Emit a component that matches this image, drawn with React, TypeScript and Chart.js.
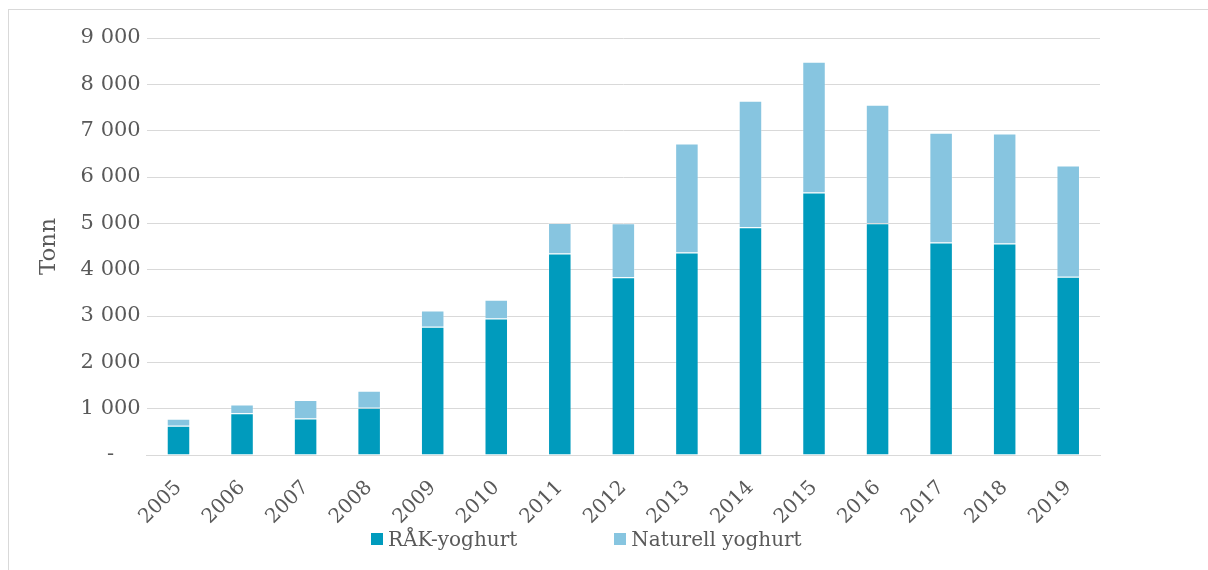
import React, { useEffect, useRef } from "react";
import { Chart, registerables } from "chart.js";

Chart.register(...registerables);

const years = ["2005", "2006", "2007", "2008", "2009", "2010", "2011", "2012", "2013", "2014", "2015", "2016", "2017", "2018", "2019"];
const rakValues = [630, 900, 790, 1020, 2770, 2945, 4350, 3835, 4370, 4915, 5665, 5000, 4585, 4565, 3850];
const naturellValues = [155, 190, 400, 370, 350, 405, 660, 1165, 2355, 2730, 2825, 2560, 2370, 2375, 2400];
const yTickValues = [0, 1000, 2000, 3000, 4000, 5000, 6000, 7000, 8000, 9000];
const yTickLabels = ["-    ", "1 000", "2 000", "3 000", "4 000", "5 000", "6 000", "7 000", "8 000", "9 000"];
const seriesNames = ["RÅK-yoghurt", "Naturell yoghurt"];
const seriesColors = ["#009bbd", "#87c5e0"];

const FONT = "'DejaVu Serif', 'Liberation Serif', serif";
const TEXT = "#595959";

export default function App() {
  const ref = useRef<HTMLCanvasElement | null>(null);

  useEffect(() => {
    if (!ref.current) return;
    const chart = new Chart(ref.current, {
      type: "bar",
      data: {
        labels: years,
        datasets: [
          {
            label: seriesNames[0],
            data: rakValues,
            backgroundColor: seriesColors[0],
            borderColor: "rgba(255,255,255,0.25)",
            borderWidth: 1,
            barPercentage: 0.37,
            categoryPercentage: 1,
          },
          {
            label: seriesNames[1],
            data: naturellValues,
            backgroundColor: seriesColors[1],
            borderColor: "rgba(255,255,255,0.25)",
            borderWidth: 1,
            barPercentage: 0.37,
            categoryPercentage: 1,
          },
        ],
      },
      options: {
        responsive: false,
        animation: false,
        devicePixelRatio: 1,
        layout: { padding: { left: 10, right: 108, top: 28, bottom: 8 } },
        plugins: { legend: { display: false }, tooltip: { enabled: false } },
        scales: {
          x: {
            stacked: true,
            grid: { display: false, drawTicks: false },
            border: { display: true, color: "#d9d9d9", width: 1 },
            ticks: {
              color: TEXT,
              font: { family: FONT, size: 20 },
              maxRotation: 45,
              minRotation: 45,
              autoSkip: false,
              padding: 21,
            },
          },
          y: {
            stacked: true,
            min: 0,
            max: 9000,
            afterBuildTicks: (axis: any) => {
              axis.ticks = yTickValues.map((v) => ({ value: v }));
            },
            grid: { color: "#d9d9d9", lineWidth: 1, drawTicks: false },
            border: { display: false },
            ticks: {
              color: TEXT,
              font: { family: FONT, size: 21 },
              padding: 6,
              callback: (_v: any, i: number) => yTickLabels[i],
            },
            title: {
              display: true,
              text: "Tonn",
              color: TEXT,
              font: { family: FONT, size: 23 },
              padding: { top: 16, bottom: 12 },
            },
          },
        },
      },
    });
    return () => chart.destroy();
  }, []);

  return (
    <div
      style={{
        position: "fixed",
        left: 8,
        top: 9,
        width: 1200,
        height: 561,
        borderLeft: "1px solid #d9d9d9",
        borderTop: "1px solid #d9d9d9",
        background: "#fff",
        overflow: "hidden",
      }}
    >
      <canvas ref={ref} width={1199} height={548} style={{ position: "absolute", left: 0, top: 0 }} />
      <div
        style={{
          position: "absolute",
          left: 362,
          top: 517,
          display: "flex",
          alignItems: "center",
          gap: 97,
          fontFamily: FONT,
          fontSize: 20,
          color: TEXT,
          whiteSpace: "nowrap",
        }}
      >
        {seriesNames.map((n, i) => (
          <div key={n} style={{ display: "flex", alignItems: "center" }}>
            <span style={{ display: "inline-block", width: 12, height: 12, background: seriesColors[i], marginRight: 5 }} />
            <span>{n}</span>
          </div>
        ))}
      </div>
    </div>
  );
}
